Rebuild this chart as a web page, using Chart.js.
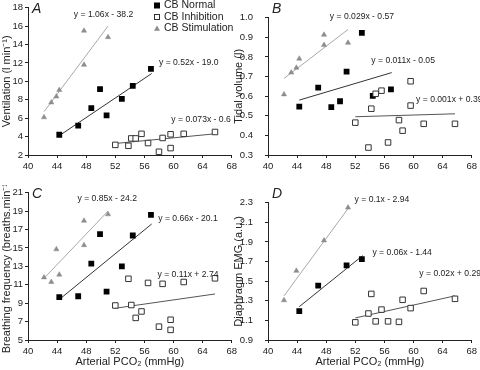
<!DOCTYPE html>
<html><head><meta charset="utf-8">
<script src="https://cdn.jsdelivr.net/npm/chart.js@4/dist/chart.umd.min.js"></script>
<style>
html,body{margin:0;padding:0;background:#fff;}
#wrap{position:relative;width:480px;height:370px;}
.cell{position:absolute;height:185px;}
canvas{display:block;}
</style></head><body>
<div id="wrap">
<div class="cell" style="left:0;top:0;width:240px"><canvas id="cA" width="240" height="185"></canvas></div>
<div class="cell" style="left:228px;top:0;width:252px"><canvas id="cB" width="252" height="185"></canvas></div>
<div class="cell" style="left:0;top:185px;width:240px"><canvas id="cC" width="240" height="185"></canvas></div>
<div class="cell" style="left:228px;top:185px;width:252px"><canvas id="cD" width="252" height="185"></canvas></div>
</div>
<script>
// ---- data (arterial PCO2, mmHg) ----
const seriesNames = ['CB Normal', 'CB Inhibition', 'CB Stimulation'];
const pco2Normal = [44.3, 46.9, 48.7, 49.9, 50.8, 52.9, 54.4, 56.9];
const pco2Inhibition = [52.0, 53.8, 54.2, 54.8, 55.6, 56.5, 58.0, 58.5, 59.6, 59.6, 61.4, 65.7];
const pco2Stimulation = [42.2, 43.2, 43.9, 44.3, 47.7, 47.7, 51.0];

// A: ventilation (l/min)
const ventNormal = [4.2, 5.2, 7.1, 9.15, 6.3, 8.1, 9.5, 11.35];
const ventInhibition = [3.1, 3.0, 3.8, 3.8, 4.3, 3.3, 2.35, 3.85, 4.25, 2.75, 4.3, 4.5];
const ventStimulation = [6.1, 7.7, 8.35, 9.05, 11.8, 15.5, 14.8];
// B: tidal volume (l)
const vtNormal = [0.547, 0.643, 0.544, 0.574, 0.725, 0.923, 0.601, 0.635];
const vtInhibition = [0.465, 0.338, 0.536, 0.612, 0.628, 0.364, 0.478, 0.424, 0.676, 0.552, 0.459, 0.459];
const vtStimulation = [0.609, 0.72, 0.745, 0.791, 0.861, 0.913, 0.872];
// C: breathing frequency (breaths/min)
const bfNormal = [9.65, 9.75, 13.3, 16.5, 10.25, 13.0, 16.35, 18.6];
const bfInhibition = [8.75, 11.65, 8.8, 7.4, 8.1, 11.2, 6.45, 11.1, 7.2, 6.1, 11.3, 11.7];
const bfStimulation = [11.8, 11.3, 14.85, 12.1, 15.3, 17.95, 18.65];
// D: diaphragm EMG (a.u.)
const pco2NormalEmg = [44.3, 46.9, 50.8, 52.9];
const emgNormal = [1.195, 1.455, 1.66, 1.725];
const pco2InhibitionEmg = [52.0, 53.8, 54.2, 54.8, 55.6, 56.5, 58.0, 58.5, 59.6, 61.4, 65.7];
const emgInhibition = [1.08, 1.17, 1.37, 1.09, 1.21, 1.09, 1.085, 1.31, 1.225, 1.40, 1.32];
const pco2StimulationEmg = [42.2, 43.9, 47.7, 51.0];
const emgStimulation = [1.305, 1.605, 1.915, 2.25];

// trend line end points
const ventFitNormalX = [44.3, 57.0], ventFitNormalY = [4.1, 10.85];
const ventFitInhX = [52.0, 65.7], ventFitInhY = [3.25, 4.3];
const ventFitStimX = [42.2, 51.0], ventFitStimY = [6.7, 16.0];
const vtFitNormalX = [44.3, 57.0], vtFitNormalY = [0.58, 0.72];
const vtFitInhX = [52.0, 65.7], vtFitInhY = [0.495, 0.51];
const vtFitStimX = [42.2, 51.0], vtFitStimY = [0.69, 0.94];
const bfFitNormalX = [44.3, 57.0], bfFitNormalY = [9.4, 17.6];
const bfFitInhX = [52.0, 65.7], bfFitInhY = [8.45, 10.0];
const bfFitStimX = [42.2, 51.0], bfFitStimY = [11.7, 19.0];
const emgFitNormalX = [44.3, 53.0], emgFitNormalY = [1.24, 1.76];
const emgFitInhX = [52.0, 65.7], emgFitInhY = [1.125, 1.35];
const emgFitStimX = [42.2, 51.0], emgFitStimY = [1.35, 2.24];

// equation texts
const ventEquations = ['y = 1.06x - 38.2', 'y = 0.52x - 19.0', 'y = 0.073x - 0.6'];
const vtEquations = ['y = 0.029x - 0.57', 'y = 0.011x - 0.05', 'y = 0.001x + 0.39'];
const bfEquations = ['y = 0.85x - 24.2', 'y = 0.66x - 20.1', 'y = 0.11x + 2.74'];
const emgEquations = ['y = 0.1x - 2.94', 'y = 0.06x - 1.44', 'y = 0.02x + 0.29'];

// x axis ticks
const xMin = 40, xMax = 68, xStep = 4;

// ---- rendering ----
const FONT = "'Liberation Sans', Arial, sans-serif";
const INK = '#222';
Chart.defaults.font.family = FONT;
Chart.defaults.color = INK;

function pts(xs, ys) { return xs.map((x, i) => ({x: x, y: ys[i]})); }

function datasets(xN, yN, xI, yI, xS, yS, fits) {
  return [
    {label: 'fitStim', data: pts(fits[0], fits[1]), showLine: true, borderColor: '#a8a8a8', borderWidth: 1, pointRadius: 0, order: 5},
    {label: 'fitNormal', data: pts(fits[2], fits[3]), showLine: true, borderColor: '#333', borderWidth: 1, pointRadius: 0, order: 5},
    {label: 'fitInh', data: pts(fits[4], fits[5]), showLine: true, borderColor: '#555', borderWidth: 1, pointRadius: 0, order: 5},
    {label: seriesNames[2], data: pts(xS, yS), pointStyle: 'triangle', pointRadius: 3.0, backgroundColor: '#8c8c8c', borderColor: '#8c8c8c', borderWidth: 0.5, order: 1},
    {label: seriesNames[1], data: pts(xI, yI), pointStyle: 'rect', pointRadius: 3.9, backgroundColor: '#fff', borderColor: '#333', borderWidth: 1, order: 1},
    {label: seriesNames[0], data: pts(xN, yN), pointStyle: 'rect', pointRadius: 4.1, backgroundColor: '#000', borderColor: '#000', borderWidth: 0, order: 1}
  ];
}

const extras = {
  id: 'extras',
  afterDatasetsDraw(chart) {
    const o = chart.options.plugins.extras;
    const ctx = chart.ctx, xs = chart.scales.x, ys = chart.scales.y;
    const ca = chart.chartArea;
    ctx.save();
    // panel letter
    ctx.font = "italic 14px " + FONT;
    ctx.fillStyle = INK; ctx.textAlign = 'left'; ctx.textBaseline = 'middle';
    ctx.fillText(o.letter, ca.left + 4, 9.5);
    // equations
    ctx.font = "8.6px " + FONT;
    o.eqs.forEach(e => {
      ctx.fillText(e.t, xs.getPixelForValue(e.x), ys.getPixelForValue(e.y));
    });
    // legend
    if (o.legend) {
      const lx = 157, rows = [5.5, 17, 28.5];
      ctx.font = "10.5px " + FONT;
      ctx.fillStyle = '#000'; ctx.fillRect(lx - 3, rows[0] - 3, 6, 6);
      ctx.fillStyle = '#fff'; ctx.strokeStyle = '#333'; ctx.lineWidth = 1;
      ctx.fillRect(lx - 2.5, rows[1] - 2.5, 5, 5); ctx.strokeRect(lx - 2.5, rows[1] - 2.5, 5, 5);
      ctx.fillStyle = '#8c8c8c';
      ctx.beginPath(); ctx.moveTo(lx, rows[2] - 3); ctx.lineTo(lx + 3, rows[2] + 2.3); ctx.lineTo(lx - 3, rows[2] + 2.3); ctx.closePath(); ctx.fill();
      ctx.fillStyle = INK;
      seriesNames.forEach((n, i) => ctx.fillText(n, lx + 7, rows[i]));
    }
    ctx.restore();
  }
};

function makeChart(id, yTitle, yMin, yMax, yStep, dec, xTitle, ds, extraOpts, right) {
  const yw = right ? 40 : 28;
  const tickPad = right ? 12 : 2;
  const titlePad = right ? 4 : 0.2;
  return new Chart(document.getElementById(id), {
    type: 'scatter',
    data: {datasets: ds},
    options: {
      responsive: false, animation: false, devicePixelRatio: 1,
      layout: {padding: {left: 0, right: 7, top: 5, bottom: 0}},
      plugins: {legend: {display: false}, tooltip: {enabled: false}, extras: extraOpts},
      scales: {
        x: {
          type: 'linear', min: xMin, max: xMax,
          ticks: {stepSize: xStep, autoSkip: false, maxRotation: 0, padding: 3, font: {size: 9.5}, color: INK},
          grid: {drawOnChartArea: false, drawTicks: true, tickLength: 3, color: INK},
          border: {display: true, color: INK, width: 1},
          title: {display: !!xTitle, text: xTitle || '', font: {size: 11}, color: INK, padding: {top: 0, bottom: 1.5}},
          afterFit(s) { s.height = 30; }
        },
        y: {
          type: 'linear', min: yMin, max: yMax,
          ticks: {stepSize: yStep, autoSkip: false, padding: tickPad, font: {size: 9.5}, color: INK,
                  callback: v => Number(v).toFixed(dec)},
          grid: {drawOnChartArea: false, drawTicks: true, tickLength: 3, color: INK},
          border: {display: true, color: INK, width: 1},
          title: {display: true, text: yTitle, font: {size: 11}, color: INK, padding: {top: titlePad, bottom: 0}},
          afterFit(s) { s.width = yw; }
        }
      }
    },
    plugins: [extras]
  });
}

makeChart('cA', 'Ventilation (l min\u207B\u00B9)', 2, 18, 2, 0, null,
  datasets(pco2Normal, ventNormal, pco2Inhibition, ventInhibition, pco2Stimulation, ventStimulation,
    [ventFitStimX, ventFitStimY, ventFitNormalX, ventFitNormalY, ventFitInhX, ventFitInhY]),
  {letter: 'A', legend: true, eqs: [
    {t: ventEquations[0], x: 46.3, y: 17.3},
    {t: ventEquations[1], x: 58.0, y: 12.0},
    {t: ventEquations[2], x: 59.7, y: 5.8}]}, false);

makeChart('cB', 'Tidal volume (l)', 0.3, 1.0, 0.1, 1, null,
  datasets(pco2Normal, vtNormal, pco2Inhibition, vtInhibition, pco2Stimulation, vtStimulation,
    [vtFitStimX, vtFitStimY, vtFitNormalX, vtFitNormalY, vtFitInhX, vtFitInhY]),
  {letter: 'B', legend: false, eqs: [
    {t: vtEquations[0], x: 48.5, y: 1.005},
    {t: vtEquations[1], x: 54.2, y: 0.782},
    {t: vtEquations[2], x: 60.35, y: 0.583}]}, true);

makeChart('cC', 'Breathing frequency (breaths.min\u207B\u00B9)', 5, 21, 2, 0, 'Arterial PCO\u2082 (mmHg)',
  datasets(pco2Normal, bfNormal, pco2Inhibition, bfInhibition, pco2Stimulation, bfStimulation,
    [bfFitStimX, bfFitStimY, bfFitNormalX, bfFitNormalY, bfFitInhX, bfFitInhY]),
  {letter: 'C', legend: false, eqs: [
    {t: bfEquations[0], x: 46.8, y: 20.35},
    {t: bfEquations[1], x: 57.9, y: 18.2},
    {t: bfEquations[2], x: 57.8, y: 12.05}]}, false);

makeChart('cD', 'Diaphragm EMG (a.u.)', 0.9, 2.3, 0.2, 1, 'Arterial PCO\u2082 (mmHg)',
  datasets(pco2NormalEmg, emgNormal, pco2InhibitionEmg, emgInhibition, pco2StimulationEmg, emgStimulation,
    [emgFitStimX, emgFitStimY, emgFitNormalX, emgFitNormalY, emgFitInhX, emgFitInhY]),
  {letter: 'D', legend: false, eqs: [
    {t: emgEquations[0], x: 51.9, y: 2.33},
    {t: emgEquations[1], x: 54.35, y: 1.787},
    {t: emgEquations[2], x: 60.8, y: 1.572}]}, true);
</script>
</body></html>
